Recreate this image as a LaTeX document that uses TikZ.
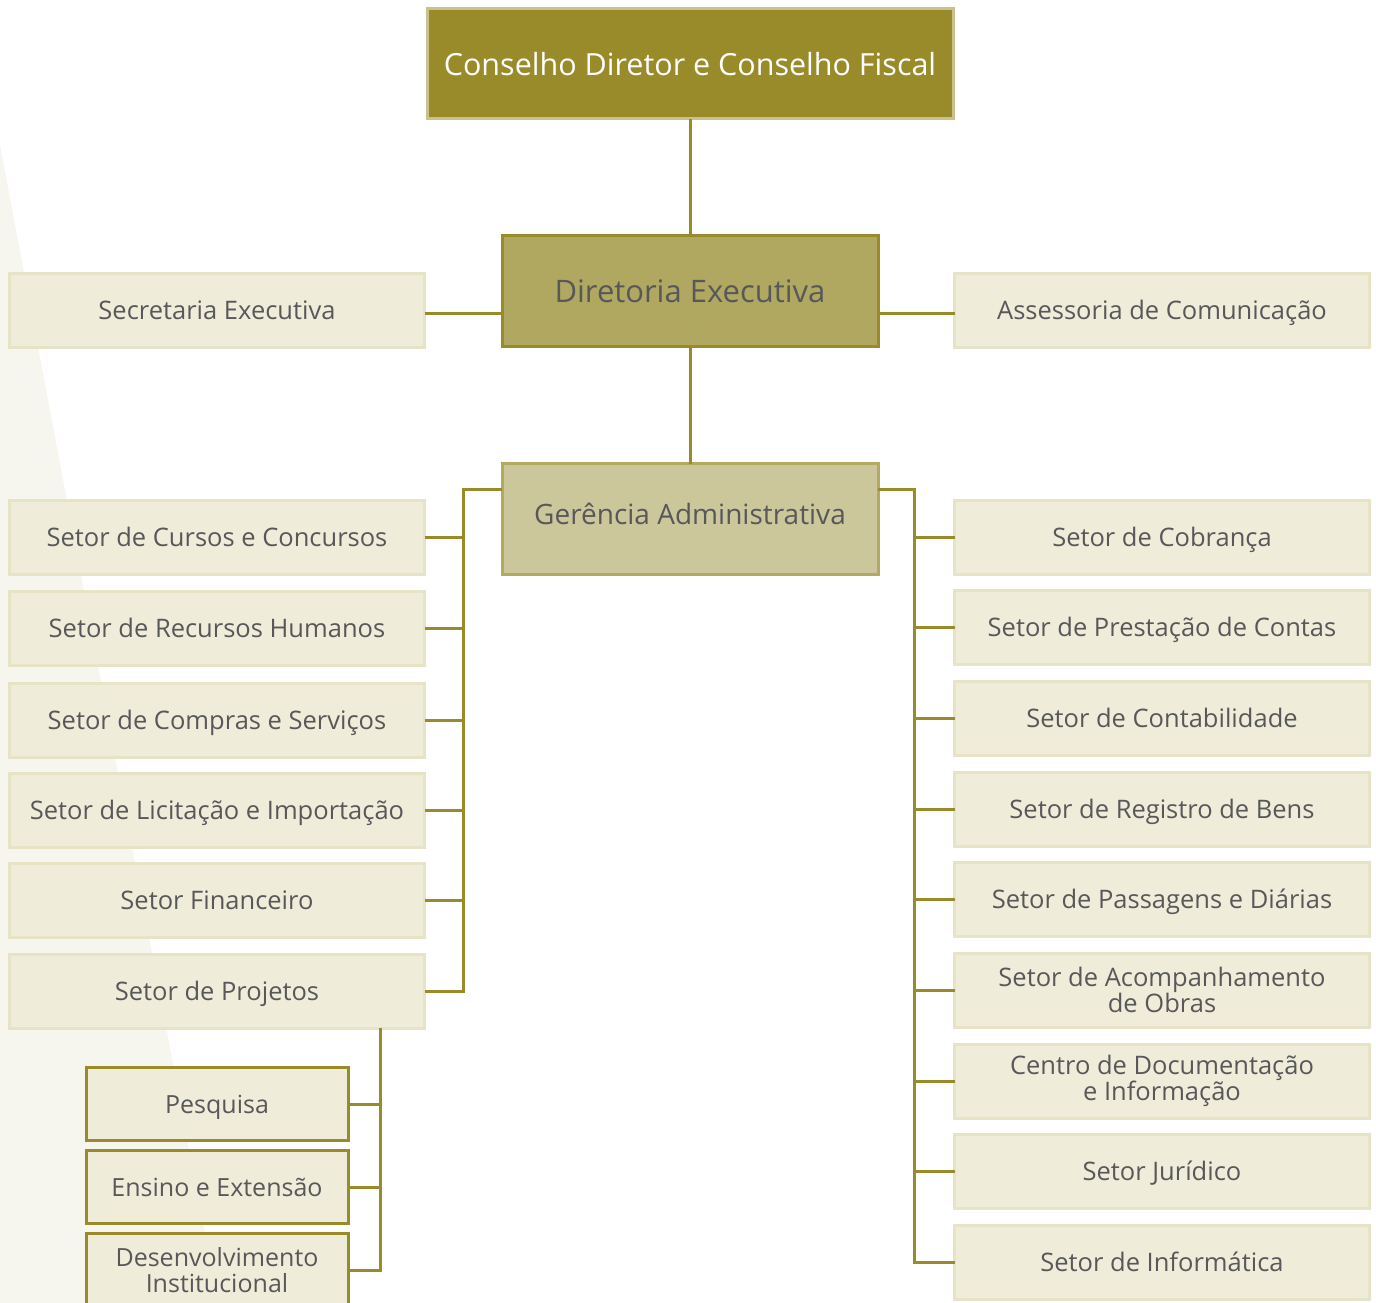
\documentclass[tikz,border=0pt]{standalone}
\usepackage{fontspec}
\setmainfont{Open Sans}
\usetikzlibrary{calc}

\definecolor{olivedark}{HTML}{998B2A}
\definecolor{olivetopline}{HTML}{C9C28C}
\definecolor{olivemid}{HTML}{B0A760}
\definecolor{olivelight}{HTML}{CCC69B}
\definecolor{olivelightline}{HTML}{B3AA62}
\definecolor{cream}{HTML}{EFECD9}
\definecolor{creamline}{HTML}{E7E3C6}
\definecolor{bgshade}{HTML}{F6F6EE}
\definecolor{labelgray}{HTML}{58585A}

\begin{document}
\begin{tikzpicture}[x=1pt, y=-1pt,
    every node/.style={inner sep=0pt, outer sep=0pt, align=center, text=labelgray},
    topbox/.style={fill=olivedark, draw=olivetopline, line width=3pt, minimum width=526pt, minimum height=110pt, text=white, font=\fontsize{30.5}{33}\selectfont},
    dirbox/.style={fill=olivemid, draw=olivedark, line width=3pt, minimum width=376pt, minimum height=111pt, font=\fontsize{31}{34}\selectfont},
    gerbox/.style={fill=olivelight, draw=olivelightline, line width=3pt, minimum width=376pt, minimum height=111pt, font=\fontsize{28}{31}\selectfont},
    unitpair/.style={fill=cream, draw=creamline, line width=3pt, minimum width=415pt, minimum height=74pt, font=\fontsize{25.5}{26}\selectfont},
    unitbox/.style={unitpair, text height=19pt, text depth=0pt},
    subpair/.style={fill=cream, draw=olivedark, line width=3pt, minimum width=262pt, minimum height=73pt, font=\fontsize{25}{26}\selectfont},
    subbox/.style={subpair, text height=19pt, text depth=0pt},
    link/.style={draw=olivedark, line width=3pt}]
	\useasboundingbox (0, 0) rectangle (1376, 1303);
	\fill[white] (0, 0) rectangle (1376, 1303);
	\fill[bgshade] (0, 145) -- (218, 1303) -- (0, 1303) -- cycle;
	% top of the chart
	\node[topbox] (consdir) at (690, 64) {Conselho Diretor e Conselho Fiscal};
	\node[dirbox] (direx) at (690, 291) {Diretoria Executiva};
	\node[unitbox] (secex) at (217, 310) {Secretaria Executiva};
	\node[unitbox] (ascom) at (1162, 310) {Assessoria de Comunicação};
	\node[gerbox, text depth=10pt] (gerad) at (690, 519) {Gerência Administrativa};
	% left column
	\node[unitbox] (cursos) at (217, 537) {Setor de Cursos e Concursos};
	\node[unitbox] (rh) at (217, 628) {Setor de Recursos Humanos};
	\node[unitbox] (compras) at (217, 720) {Setor de Compras e Serviços};
	\node[unitbox] (licit) at (217, 810) {Setor de Licitação e Importação};
	\node[unitbox] (financ) at (217, 900) {Setor Financeiro};
	\node[unitbox] (projetos) at (217, 991) {Setor de Projetos};
	\node[subbox] (pesq) at (217, 1104) {Pesquisa};
	\node[subbox] (ensino) at (217, 1187) {Ensino e Extensão};
	\node[subpair] (desinst) at (217, 1270) {Desenvolvimento\\Institucional};
	% right column
	\node[unitbox] (cobr) at (1162, 537) {Setor de Cobrança};
	\node[unitbox] (prest) at (1162, 627) {Setor de Prestação de Contas};
	\node[unitbox] (contab) at (1162, 718) {Setor de Contabilidade};
	\node[unitbox] (regbens) at (1162, 809) {Setor de Registro de Bens};
	\node[unitbox] (passag) at (1162, 899) {Setor de Passagens e Diárias};
	\node[unitpair] (acomp) at (1162, 990) {Setor de Acompanhamento\\de Obras};
	\node[unitpair] (cedoc) at (1162, 1081) {Centro de Documentação\\e Informação};
	\node[unitbox] (jurid) at (1162, 1171) {Setor Jurídico};
	\node[unitbox] (inform) at (1162, 1262) {Setor de Informática};
	% connectors
	\draw[link] (consdir) -- (direx);
	\draw[link] (direx) -- (gerad);
	\draw[link] (secex.east |- 0, 313) -- (direx.west |- 0, 313);
	\draw[link] (direx.east |- 0, 313) -- (ascom.west |- 0, 313);
	\draw[link] ([yshift=-26pt]gerad.north west) -| ($(projetos.east)+(39pt, 0)$) -- (projetos.east);
	\foreach \unit in {cursos, rh, compras, licit, financ}
		\draw[link] (\unit.east) -- ++(39pt, 0);
	\draw[link] ([yshift=-26pt]gerad.north east) -| ($(inform.west)+(-40pt, 0)$) -- (inform.west);
	\foreach \unit in {cobr, prest, contab, regbens, passag, acomp, cedoc, jurid}
		\draw[link] (\unit.west) -- ++(-40pt, 0);
	\draw[link] ([xshift=-44pt]projetos.south east) |- (desinst.east);
	\draw[link] (pesq.east) -- ++(33pt, 0);
	\draw[link] (ensino.east) -- ++(33pt, 0);
\end{tikzpicture}
\end{document}
